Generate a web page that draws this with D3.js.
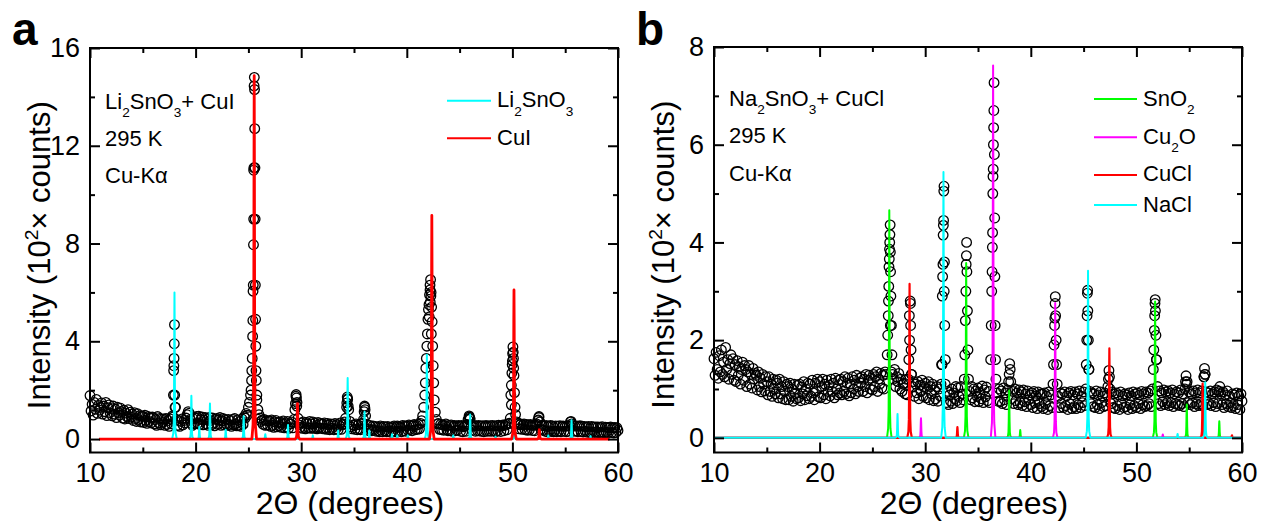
<!DOCTYPE html>
<html>
<head>
<meta charset="utf-8">
<script src="https://cdn.jsdelivr.net/npm/d3@7"></script>
<style>
html, body { margin: 0; padding: 0; background: #fff; }
svg { display: block; font-family: "Liberation Sans", Arial, sans-serif; }
</style>
</head>
<body>
<svg id="chart" width="1262" height="521"></svg>
<script>
// ---- axis ticks ----
var xTicks = [10, 20, 30, 40, 50, 60];
var xMinor = [15, 25, 35, 45, 55];
var yTicksA = [0, 4, 8, 12, 16], yMinorA = [2, 6, 10, 14];
var yTicksB = [0, 2, 4, 6, 8], yMinorB = [1, 3, 5, 7];

// ---- panel a: measured scan, one row per degree, 0.1 deg step ----
var obsA = [
  [1.78,1.15,1.42,0.98,1.50,1.22,1.62,1.05,1.38,1.18],
  [1.30,1.48,1.02,1.35,1.12,1.50,0.96,1.28,1.40,1.08],
  [1.25,0.95,1.35,1.02,1.22,0.88,1.30,1.08,0.98,1.26],
  [1.12,0.86,1.18,0.82,1.06,0.92,1.20,0.84,1.10,0.90],
  [1.02,0.76,1.08,0.84,0.72,1.04,0.80,0.96,0.70,0.94],
  [0.94,0.68,0.98,0.76,0.64,0.92,0.72,0.88,0.66,0.90],
  [0.88,0.62,0.80,0.56,0.92,0.66,0.84,0.58,0.82,0.68],
  [0.82,0.56,0.84,0.60,0.76,0.52,0.82,0.62,0.95,1.80],
  [4.68,1.30,0.80,0.56,0.76,0.52,0.72,0.82,0.58,0.76],
  [0.66,0.86,1.00,1.12,1.06,0.80,0.64,0.56,0.82,0.62],
  [0.86,0.92,0.64,0.94,0.60,0.80,0.90,0.58,0.78,0.88],
  [0.62,0.82,0.56,0.88,0.76,0.58,0.86,0.64,0.54,0.80],
  [0.84,0.60,0.78,0.88,0.56,0.74,0.84,0.58,0.80,0.62],
  [0.56,0.80,0.60,0.76,0.52,0.80,0.58,0.84,0.62,0.54],
  [0.78,0.56,0.72,0.52,0.82,0.60,0.92,0.86,1.05,0.98],
  [1.30,1.50,1.80,2.40,4.20,11.0,12.7,3.80,1.80,1.20],
  [1.00,0.86,0.72,0.78,0.60,0.80,0.56,0.76,0.58,0.74],
  [0.74,0.52,0.78,0.56,0.48,0.70,0.76,0.50,0.68,0.54],
  [0.70,0.48,0.66,0.74,0.46,0.64,0.50,0.72,0.44,0.62],
  [0.62,0.70,0.46,0.80,1.20,1.75,1.50,0.85,0.58,0.48],
  [0.66,0.44,0.70,0.48,0.42,0.68,0.62,0.46,0.72,0.44],
  [0.62,0.70,0.44,0.66,0.48,0.42,0.68,0.46,0.64,0.44],
  [0.62,0.42,0.66,0.44,0.40,0.64,0.58,0.38,0.62,0.44],
  [0.60,0.38,0.64,0.42,0.60,0.38,0.56,0.66,0.40,0.58],
  [0.62,0.70,0.85,1.30,1.62,1.20,0.72,0.50,0.42,0.58],
  [0.56,0.40,0.62,0.38,0.58,0.42,0.38,0.62,0.66,0.80],
  [1.35,0.95,0.60,0.40,0.34,0.56,0.38,0.34,0.54,0.36],
  [0.52,0.32,0.50,0.34,0.30,0.54,0.48,0.30,0.52,0.34],
  [0.50,0.30,0.52,0.32,0.48,0.28,0.50,0.33,0.54,0.30],
  [0.48,0.54,0.32,0.52,0.48,0.30,0.56,0.34,0.54,0.32],
  [0.54,0.36,0.58,0.38,0.56,0.34,0.55,0.60,0.38,0.57],
  [0.40,0.60,0.42,0.64,0.75,0.95,1.30,1.80,2.90,3.80],
  [4.90,5.50,6.10,6.00,4.80,3.00,1.60,1.10,0.80,0.62],
  [0.64,0.40,0.60,0.38,0.58,0.36,0.56,0.62,0.38,0.34],
  [0.56,0.34,0.58,0.32,0.52,0.56,0.34,0.54,0.36,0.56],
  [0.52,0.32,0.56,0.30,0.50,0.54,0.32,0.60,0.80,0.95],
  [0.82,0.55,0.36,0.52,0.56,0.32,0.54,0.34,0.56,0.33],
  [0.54,0.32,0.55,0.30,0.52,0.56,0.32,0.54,0.33,0.55],
  [0.32,0.56,0.34,0.54,0.30,0.55,0.33,0.57,0.52,0.31],
  [0.54,0.58,0.34,0.56,0.60,0.38,0.62,0.65,0.85,1.40],
  [3.20,3.30,1.90,1.00,0.70,0.64,0.42,0.58,0.62,0.40],
  [0.58,0.62,0.38,0.60,0.36,0.58,0.37,0.60,0.56,0.35],
  [0.56,0.34,0.58,0.62,0.75,0.88,0.70,0.40,0.56,0.36],
  [0.54,0.32,0.56,0.30,0.52,0.33,0.56,0.31,0.54,0.30],
  [0.32,0.54,0.30,0.53,0.33,0.55,0.30,0.52,0.54,0.32],
  [0.52,0.30,0.54,0.32,0.55,0.70,0.62,0.56,0.32,0.53],
  [0.33,0.54,0.30,0.52,0.55,0.31,0.53,0.29,0.52,0.32],
  [0.50,0.28,0.52,0.30,0.26,0.52,0.29,0.50,0.27,0.50],
  [0.28,0.50,0.26,0.49,0.28,0.51,0.30,0.25,0.49,0.28],
  [0.48,0.26,0.47,0.50,0.27,0.46,0.25,0.48,0.27,0.46],
  [0.35]
];
// extra points recorded across the peaks
var obsAPeaks = [
  [17.86,0.9],[17.92,2.8],[17.94,3.0],[17.96,3.3],[17.98,3.9],[18.02,1.8],[18.05,1.3],
  [25.25,2.0],[25.32,2.8],[25.36,3.3],[25.42,4.85],[25.44,6.05],[25.46,6.3],[25.48,7.95],[25.5,9.0],
  [25.52,11.1],[25.54,14.45],[25.56,14.8],[25.58,14.3],[25.62,11.1],[25.64,9.0],[25.66,6.3],
  [25.68,4.9],[25.72,2.8],[25.75,2.4],[25.8,1.6],
  [29.45,1.45],[29.52,1.82],[29.55,1.68],[29.58,1.35],
  [34.32,1.48],[34.36,1.72],[34.38,1.65],[34.45,1.35],
  [35.96,1.12],[36.02,1.30],[36.05,1.2],
  [41.75,2.3],[41.85,3.3],[41.95,4.3],[42.05,5.3],[42.12,5.0],[42.15,5.9],[42.2,6.3],[42.22,5.6],
  [42.25,6.52],[42.28,5.85],[42.32,4.3],[42.35,5.4],[42.45,3.8],[42.55,2.3],
  [45.92,0.9],[45.96,0.85],
  [49.85,1.8],[49.9,2.2],[49.95,2.7],[49.98,3.05],[50.02,3.5],[50.05,3.77],[50.08,3.55],
  [50.12,2.9],[50.15,2.6],[50.25,1.3],
  [52.46,0.78],[52.52,0.92],[55.55,0.72]
];
// reference patterns [2theta, intensity]
var li2sno3Peaks = [[18.0,6.0],[19.6,1.77],[20.35,0.5],[21.36,1.45],[22.85,0.38],[24.55,0.93],[26.6,0.2],
  [28.75,0.58],[31.1,0.15],[33.5,0.35],[34.4,2.5],[36.0,1.12],[36.45,0.35],[38.6,0.2],[39.1,0.15],
  [40.1,0.15],[41.9,3.45],[44.4,0.15],[46.0,1.0],[48.4,0.1],[50.2,0.3],[53.4,0.15],[55.6,0.77],[57.4,0.12]];
var cuiPeaks = [[25.55,14.87],[29.65,1.45],[42.37,9.15],[50.15,6.1],[52.55,0.38]];

// ---- panel b ----
var obsB = [
  [1.62,1.28,1.75,1.40,1.22,1.68,1.35,1.80,1.30,1.55],
  [1.25,1.85,1.40,1.60,1.20,1.52,1.70,1.30,1.62,1.18],
  [1.50,1.15,1.58,1.28,1.45,1.10,1.40,1.55,1.18,1.48],
  [1.40,1.05,1.35,1.48,1.10,1.30,1.02,1.42,1.20,1.32],
  [1.28,0.98,1.35,1.05,1.22,0.94,1.30,1.10,0.96,1.25],
  [1.15,0.88,1.25,0.95,1.10,0.85,1.20,1.00,0.90,1.18],
  [1.12,0.82,1.20,0.90,1.05,0.80,1.15,0.95,0.78,1.10],
  [1.05,0.78,1.12,0.85,1.00,0.75,1.10,0.90,0.80,1.08],
  [0.82,1.10,0.76,1.04,0.90,1.15,0.78,1.00,0.86,1.12],
  [0.80,1.10,0.85,1.18,0.92,0.78,1.12,0.96,1.20,0.84],
  [1.15,0.82,1.05,1.20,0.88,1.10,0.80,1.18,0.95,1.08],
  [0.86,1.20,0.95,1.12,0.82,1.22,1.00,0.88,1.18,0.92],
  [1.20,0.88,1.15,0.95,1.25,0.90,1.12,1.22,0.86,1.10],
  [0.92,1.25,1.00,1.18,0.90,1.28,1.05,0.95,1.22,1.12],
  [1.25,0.95,1.20,1.05,1.30,0.92,1.18,1.28,1.00,1.22],
  [0.98,1.30,1.05,1.25,1.35,0.95,1.20,1.10,1.32,1.02],
  [1.28,1.00,1.35,1.30,1.70,2.50,3.66,2.30,1.35,1.30],
  [1.20,1.40,1.05,1.25,1.15,1.32,1.00,1.20,0.95,1.10],
  [1.12,0.90,1.20,0.88,1.20,2.50,2.75,1.30,1.05,1.15],
  [0.85,1.10,0.92,1.15,0.80,1.08,0.95,1.18,0.85,1.05],
  [1.12,0.82,1.00,1.15,0.78,1.05,0.90,1.10,0.76,0.98],
  [0.80,1.05,0.75,1.00,0.86,1.10,1.50,4.15,3.00,1.10],
  [0.72,0.95,0.68,0.88,0.75,1.00,0.70,0.92,0.80,1.05],
  [0.76,1.02,0.85,0.72,1.05,0.90,0.78,1.20,2.40,3.73],
  [2.60,1.20,0.95,0.78,1.05,0.82,1.00,0.74,0.96,0.85],
  [1.02,0.74,0.92,0.80,1.06,0.72,0.98,0.84,1.04,0.76],
  [0.95,0.72,1.60,3.00,5.00,6.70,3.30,1.20,0.92,0.75],
  [1.00,0.74,0.96,0.70,1.02,0.78,0.92,0.68,0.98,1.15],
  [1.52,1.15,0.80,0.95,0.70,1.00,0.76,0.92,0.68,0.98],
  [0.72,0.94,0.66,0.98,0.74,0.90,0.64,0.96,0.78,0.88],
  [0.68,0.92,0.62,0.95,0.72,0.86,0.60,0.94,0.70,0.90],
  [0.64,0.90,0.60,0.92,0.70,0.85,0.58,0.94,0.66,0.88],
  [0.62,1.10,1.90,2.75,2.00,1.10,0.85,0.62,0.92,0.70],
  [0.90,0.62,0.94,0.66,0.86,0.58,0.92,0.70,0.95,0.60],
  [0.88,0.64,0.94,0.60,0.90,0.68,0.96,0.62,0.85,0.72],
  [0.94,0.66,1.00,2.00,2.60,1.40,0.95,0.70,0.92,0.64],
  [0.90,0.62,0.96,0.68,0.88,0.60,0.94,0.72,0.86,0.64],
  [0.92,0.66,0.88,1.05,1.38,1.00,0.70,0.94,0.62,0.90],
  [0.60,0.92,0.66,0.88,0.58,0.94,0.70,0.86,0.62,0.90],
  [0.64,0.88,0.58,0.92,0.68,0.86,0.60,0.94,0.66,0.90],
  [0.62,0.92,0.70,0.88,0.60,0.95,0.68,0.90,0.64,0.94],
  [0.66,0.92,0.70,0.96,0.64,1.00,1.40,2.20,2.60,1.60],
  [1.05,0.70,0.96,0.66,0.92,0.74,0.98,0.68,0.94,0.72],
  [0.96,0.66,0.92,0.72,0.98,0.64,0.90,0.70,0.94,0.68],
  [0.92,0.66,0.98,0.70,0.90,0.64,1.00,1.27,1.15,0.72],
  [0.94,0.68,0.90,0.72,0.96,0.64,0.92,0.70,0.98,0.66],
  [0.92,0.70,0.96,0.66,1.25,1.30,0.94,0.68,0.92,0.70],
  [0.96,0.66,0.90,0.72,0.94,0.64,0.98,0.70,0.95,1.05],
  [0.90,0.68,0.94,0.62,0.88,0.70,0.96,0.64,0.86,0.72],
  [0.62,0.90,0.66,0.88,0.60,0.92,0.68,0.86,0.58,0.90],
  [0.75]
];
var obsBPeaks = [
  [26.45,2.1],[26.52,2.8],[26.55,3.1],[26.57,3.5],[26.62,3.86],[26.64,4.0],[26.66,4.16],[26.68,4.36],
  [26.7,3.8],[26.72,3.4],[26.75,2.9],[26.8,2.3],[26.85,1.7],
  [28.45,1.6],[28.52,2.0],[28.58,2.8],[28.62,2.3],[28.66,1.8],[28.7,1.3],
  [31.55,1.5],[31.62,2.9],[31.65,3.3],[31.68,3.55],[31.72,4.35],[31.74,4.45],[31.76,5.05],[31.78,5.15],
  [31.82,3.6],[31.85,2.3],[31.9,1.6],
  [33.75,1.7],[33.85,3.0],[33.88,3.55],[33.92,4.0],[33.95,3.4],[34.05,1.8],
  [36.25,2.3],[36.33,3.4],[36.36,3.9],[36.38,4.2],[36.42,5.35],[36.44,5.5],[36.46,6.0],[36.48,6.35],
  [36.52,7.27],[36.55,5.8],[36.58,4.5],[36.62,2.3],[36.66,1.6],
  [37.95,1.3],[38.05,1.4],
  [42.15,1.5],[42.25,2.3],[42.28,2.45],[42.32,2.89],[42.35,2.5],[42.45,1.5],
  [45.25,1.5],[45.33,2.5],[45.36,2.96],[45.38,3.02],[45.45,2.0],[45.5,1.4],
  [47.35,1.2],[47.45,1.25],
  [51.65,1.8],[51.73,2.5],[51.76,2.75],[51.78,2.83],[51.85,2.1],[51.9,1.6],
  [54.65,1.15],[54.75,1.1],[56.4,1.25],[56.45,1.42],[56.5,1.3],[57.85,0.95]
];
var sno2Peaks = [[26.6,4.66],[33.88,3.58],[37.95,0.97],[39.0,0.16],[51.77,2.79],[54.77,0.68],[57.85,0.34]];
var cu2oPeaks = [[29.6,0.40],[36.43,7.62],[42.31,2.76],[52.5,0.07]];
var cuclPeaks = [[28.52,3.15],[33.05,0.22],[47.44,1.83],[56.27,1.11],[59.05,0.05]];
var naclPeaks = [[27.38,0.49],[31.73,5.44],[45.42,3.42],[53.9,0.08],[56.52,1.14]];

// ---- drawing ----
var FONT = '"Liberation Sans", Arial, sans-serif';
var svg = d3.select('#chart');

// narrow peak glyph used for the reference patterns (offset in deg, fraction of height)
var SHAPE = [[-0.22,0],[-0.11,0.04],[-0.065,0.12],[-0.04,0.35],[-0.018,0.78],[0,1],
             [0.018,0.78],[0.04,0.35],[0.065,0.12],[0.11,0.04],[0.22,0]];

function stickProfile(peaks, x0, x1) {
  var pts = [[x0, 0]];
  peaks.slice().sort(function(a, b) { return a[0] - b[0]; }).forEach(function(p) {
    SHAPE.forEach(function(s) { pts.push([p[0] + s[0], p[1] * s[1]]); });
  });
  pts.push([x1, 0]);
  return pts;
}

function scanPoints(rows, extra) {
  var pts = [];
  rows.forEach(function(row, r) {
    row.forEach(function(v, i) { pts.push([10 + r + i * 0.1, v]); });
  });
  return pts.concat(extra);
}

function richText(g, x, y, parts, size) {
  var t = g.append('text').attr('x', x).attr('y', y).attr('font-size', size)
    .attr('font-family', FONT).attr('fill', '#000');
  var cur = 0;
  parts.forEach(function(p) {
    var off = p[1] === 'sub' ? size * 0.38 : (p[1] === 'sup' ? -size * 0.4 : 0);
    t.append('tspan').attr('dy', off - cur)
      .attr('font-size', p[1] ? size * 0.62 : size).text(p[0]);
    cur = off;
  });
  return t;
}

function addAxis(g, axisFn, scale, vals, len, tr, labels) {
  var a = axisFn(scale).tickValues(vals).tickSizeInner(-len).tickSizeOuter(0).tickPadding(10);
  if (!labels) a.tickFormat('');
  var s = g.append('g').attr('transform', tr).call(a);
  s.select('.domain').remove();
  s.selectAll('line').attr('stroke', '#000').attr('stroke-width', 2);
  s.selectAll('text').attr('font-size', 27).attr('font-family', FONT).attr('fill', '#000');
}

function drawPanel(P) {
  var g = svg.append('g');
  var x = d3.scaleLinear().domain([10, 60]).range([P.left, P.right]);
  var y = d3.scaleLinear().domain(P.yDomain).range([P.bottom, P.top]);

  g.append('g').selectAll('circle').data(scanPoints(P.obs, P.obsPeaks)).enter().append('circle')
    .attr('cx', function(d) { return x(d[0]); }).attr('cy', function(d) { return y(d[1]); })
    .attr('r', 4.8).attr('fill', 'none').attr('stroke', '#000').attr('stroke-width', 1.3);

  var line = d3.line().x(function(d) { return x(d[0]); }).y(function(d) { return y(d[1]); });
  P.phases.forEach(function(ph) {
    g.append('path').attr('d', line(stickProfile(ph.peaks, ph.from, ph.to)))
      .attr('fill', 'none').attr('stroke', ph.color).attr('stroke-width', ph.width)
      .attr('stroke-linejoin', 'round');
  });

  g.append('rect').attr('x', P.left).attr('y', P.top)
    .attr('width', P.right - P.left).attr('height', P.bottom - P.top)
    .attr('fill', 'none').attr('stroke', '#000').attr('stroke-width', 2);

  addAxis(g, d3.axisBottom, x, xTicks, 10, 'translate(0,' + P.bottom + ')', true);
  addAxis(g, d3.axisBottom, x, xMinor, 5, 'translate(0,' + P.bottom + ')', false);
  addAxis(g, d3.axisTop, x, xTicks, 10, 'translate(0,' + P.top + ')', false);
  addAxis(g, d3.axisTop, x, xMinor, 5, 'translate(0,' + P.top + ')', false);
  addAxis(g, d3.axisLeft, y, P.yTicks, 10, 'translate(' + P.left + ',0)', true);
  addAxis(g, d3.axisLeft, y, P.yMinor, 5, 'translate(' + P.left + ',0)', false);
  addAxis(g, d3.axisRight, y, P.yTicks, 10, 'translate(' + P.right + ',0)', false);
  addAxis(g, d3.axisRight, y, P.yMinor, 5, 'translate(' + P.right + ',0)', false);

  // axis titles
  var cx = (P.left + P.right) / 2;
  g.append('text').attr('x', cx - 4).attr('y', 514).attr('text-anchor', 'middle')
    .attr('font-size', 32).attr('font-family', FONT).text('2\u0398 (degrees)');
  var yl = richText(g, 0, 0, [['Intensity (10', ''], ['2', 'sup'], ['\u00d7 counts)', '']], 31);
  yl.attr('text-anchor', 'middle')
    .attr('transform', 'translate(' + (P.left - 40) + ',' + ((P.top + P.bottom) / 2 + 5) + ') rotate(-90)');

  // panel letter
  g.append('text').attr('x', P.left - 78).attr('y', 45).attr('font-size', 46)
    .attr('font-weight', 'bold').attr('font-family', FONT).text(P.letter);

  // sample notes
  P.notes.forEach(function(n, i) { richText(g, P.left + 15, P.noteY[i], n, 22); });

  // legend
  P.phases.forEach(function(ph, i) {
    var ly = P.legend.lineY[i];
    g.append('line').attr('x1', P.legend.x0).attr('x2', P.legend.x1).attr('y1', ly).attr('y2', ly)
      .attr('stroke', ph.color).attr('stroke-width', 2);
    richText(g, P.legend.x1 + 6, P.legend.textY[i], ph.label, 22);
  });
}

drawPanel({
  letter: 'a', left: 90, right: 618, top: 48, bottom: 452.5,
  yDomain: [-0.55, 16], yTicks: yTicksA, yMinor: yMinorA,
  obs: obsA, obsPeaks: obsAPeaks,
  phases: [
    { peaks: li2sno3Peaks, color: '#00ffff', width: 2, from: 10.85, to: 59.2,
      label: [['Li', ''], ['2', 'sub'], ['SnO', ''], ['3', 'sub']] },
    { peaks: cuiPeaks, color: '#ff0000', width: 2.8, from: 10.85, to: 59.2,
      label: [['CuI', '']] }
  ],
  notes: [[['Li', ''], ['2', 'sub'], ['SnO', ''], ['3', 'sub'], ['+ CuI', '']], [['295 K', '']], [['Cu-K\u03b1', '']]],
  noteY: [109, 146, 183],
  legend: { x0: 447, x1: 491, lineY: [100.7, 138.3], textY: [107.3, 145] }
});

drawPanel({
  letter: 'b', left: 714, right: 1242, top: 47, bottom: 452.5,
  yDomain: [-0.3, 8], yTicks: yTicksB, yMinor: yMinorB,
  obs: obsB, obsPeaks: obsBPeaks,
  phases: [
    { peaks: sno2Peaks, color: '#00ff00', width: 2, from: 10, to: 60, label: [['SnO', ''], ['2', 'sub']] },
    { peaks: cu2oPeaks, color: '#ff00ff', width: 2, from: 10, to: 60, label: [['Cu', ''], ['2', 'sub'], ['O', '']] },
    { peaks: cuclPeaks, color: '#ff0000', width: 2.2, from: 10, to: 60, label: [['CuCl', '']] },
    { peaks: naclPeaks, color: '#00ffff', width: 2, from: 10, to: 60, label: [['NaCl', '']] }
  ],
  notes: [[['Na', ''], ['2', 'sub'], ['SnO', ''], ['3', 'sub'], ['+ CuCl', '']], [['295 K', '']], [['Cu-K\u03b1', '']]],
  noteY: [106, 143, 181],
  legend: { x0: 1094, x1: 1137, lineY: [99, 137.3, 175, 205], textY: [106, 144, 181, 212] }
});
</script>
</body>
</html>
